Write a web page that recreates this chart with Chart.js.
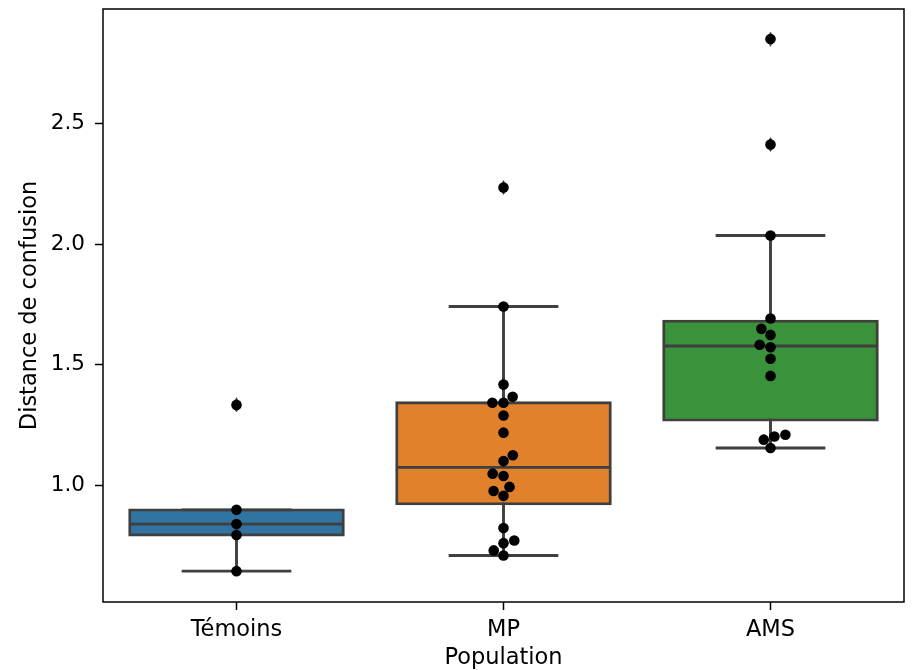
<!DOCTYPE html>
<html><head><meta charset="utf-8">
<script src="https://cdn.jsdelivr.net/npm/chart.js@4.4.1/dist/chart.umd.min.js"></script>
<style>html,body{margin:0;padding:0;background:#fff}#wrap{position:relative;width:913px;height:670px}</style>
</head><body><div id="wrap"><canvas id="c"></canvas></div>
<script>
// ---- data ----
const CATEGORIES = ['Témoins', 'MP', 'AMS'];
const TEMOINS = [1.334, 0.899, 0.840, 0.795, 0.645];
const MP = [2.235, 1.742, 1.418, 1.368, 1.343, 1.343, 1.290, 1.219, 1.125, 1.101, 1.049, 1.039, 0.994, 0.977, 0.957, 0.824, 0.772, 0.761, 0.731, 0.710];
const AMS = [2.850, 2.413, 2.036, 1.692, 1.649, 1.624, 1.583, 1.573, 1.525, 1.454, 1.210, 1.203, 1.190, 1.155];
const Y_TICKS = [1.0, 1.5, 2.0, 2.5];
const X_TITLE = 'Population';
const Y_TITLE = 'Distance de confusion';
const Y_MIN = 0.5171, Y_MAX = 2.9746;

const GROUPS = [TEMOINS, MP, AMS];

// ---- style ----
const LINE = '#3f3f3f';
const LW = 2.9;
const BOX_W = 0.8;
const PT_R = 5.3;

function quantile(s, q) { const p = (s.length - 1) * q, lo = Math.floor(p), hi = Math.ceil(p); return s[lo] + (s[hi] - s[lo]) * (p - lo); }
const STATS = GROUPS.map(vals => {
  const s = [...vals].sort((a, b) => a - b);
  const q1 = quantile(s, 0.25), med = quantile(s, 0.5), q3 = quantile(s, 0.75), iqr = q3 - q1;
  const inl = s.filter(v => v >= q1 - 1.5 * iqr && v <= q3 + 1.5 * iqr);
  return { q1, med, q3, lo: Math.min(...inl), hi: Math.max(...inl), fliers: s.filter(v => v < q1 - 1.5 * iqr || v > q3 + 1.5 * iqr) };
});

// thin diamond marker for fliers
const dia = document.createElement('canvas');
dia.width = 9; dia.height = 15;
{ const c = dia.getContext('2d'); c.fillStyle = LINE; c.beginPath(); c.moveTo(4.5, 0); c.lineTo(9, 7.5); c.lineTo(4.5, 15); c.lineTo(0, 7.5); c.closePath(); c.fill(); }

function seg(a, b, cap) {
  return { type: 'line', data: [a, b], borderColor: LINE, borderWidth: LW, pointRadius: 0, borderCapStyle: cap || 'square', showLine: true, fill: false, tension: 0 };
}

const datasets = [];
datasets.push({ type: 'scatter', label: 'swarm', data: GROUPS.flatMap((vals, gi) => vals.map(v => ({ x: gi, y: v }))),
  backgroundColor: '#000', borderWidth: 0, pointRadius: PT_R, pointHoverRadius: PT_R });
datasets.push({ type: 'scatter', label: 'fliers', data: STATS.flatMap((st, gi) => st.fliers.map(v => ({ x: gi, y: v }))),
  pointStyle: dia, pointRadius: 8 });
STATS.forEach((st, gi) => {
  const h = BOX_W / 2, c = BOX_W / 4;
  datasets.push(seg({ x: gi - h, y: st.med }, { x: gi + h, y: st.med }, 'butt'));
  datasets.push(seg({ x: gi, y: st.q1 }, { x: gi, y: st.lo }));
  datasets.push(seg({ x: gi, y: st.q3 }, { x: gi, y: st.hi }));
  datasets.push(seg({ x: gi - c, y: st.lo }, { x: gi + c, y: st.lo }));
  datasets.push(seg({ x: gi - c, y: st.hi }, { x: gi + c, y: st.hi }));
});
datasets.push({ type: 'bar', label: 'boxes', data: STATS.map((st, gi) => ({ x: gi, y: [st.q1, st.q3] })),
  backgroundColor: ['#3274a1', '#e1812c', '#3a923a'], borderColor: LINE, borderWidth: LW, borderSkipped: false,
  inflateAmount: LW / 2, categoryPercentage: BOX_W, barPercentage: 1, grouped: false });

Chart.defaults.font.family = "'DejaVu Sans', sans-serif";
Chart.defaults.font.size = 22;
Chart.defaults.color = '#000';

const frame = {
  id: 'frame',
  afterDraw(chart) {
    const { ctx, chartArea: a } = chart;
    ctx.save(); ctx.strokeStyle = '#000'; ctx.lineWidth = 1.5;
    ctx.strokeRect(a.left, a.top, a.right - a.left, a.bottom - a.top);
    ctx.restore();
  }
};

const chart = new Chart(document.getElementById('c'), {
  type: 'scatter',
  data: { datasets },
  plugins: [frame],
  options: {
    responsive: true, maintainAspectRatio: false, animation: false,
    layout: { padding: { top: 4, right: 7.5, bottom: 0, left: 0 } },
    plugins: { legend: { display: false }, tooltip: { enabled: false } },
    scales: {
      x: {
        type: 'linear', min: -0.5, max: 2.5, offset: false,
        afterBuildTicks: s => { s.ticks = CATEGORIES.map((_, i) => ({ value: i })); },
        afterFit: s => { s.height = 68; s.paddingLeft = 0; s.paddingRight = 0; },
        ticks: { callback: v => CATEGORIES[v] ?? '', autoSkip: false, maxRotation: 0, padding: 7, font: { size: 22.5 } },
        grid: { display: true, offset: false, drawOnChartArea: false, drawTicks: true, tickLength: 8, tickWidth: 1.5, tickColor: '#000' },
        border: { display: false },
        title: { display: true, text: X_TITLE, padding: { top: 0, bottom: 0 }, font: { size: 22.5, lineHeight: 1.05 } }
      },
      y: {
        type: 'linear', min: Y_MIN, max: Y_MAX,
        afterBuildTicks: s => { s.ticks = Y_TICKS.map(v => ({ value: v })); },
        afterFit: s => { s.width = 103; s.paddingTop = 0; s.paddingBottom = 0; },
        ticks: { callback: v => Number(v).toFixed(1), padding: 10, font: { size: 21.5 } },
        grid: { display: true, drawOnChartArea: false, drawTicks: true, tickLength: 8, tickWidth: 1.5, tickColor: '#000' },
        border: { display: false },
        title: { display: true, text: Y_TITLE, padding: { top: 17, bottom: 0 }, font: { size: 22.5 } }
      }
    }
  }
});

// seaborn-style beeswarm layout computed with the chart's own scales
function swarm(chart) {
  const xs = chart.scales.x, ys = chart.scales.y, r = PT_R;
  const out = [];
  GROUPS.forEach((vals, gi) => {
    const cx = xs.getPixelForValue(gi);
    const pts = vals.map(v => ({ v, y: -ys.getPixelForValue(v) })).sort((a, b) => a.y - b.y);
    const placed = [];
    pts.forEach(p => {
      const nb = [];
      for (let j = placed.length - 1; j >= 0; j--) { if (p.y - placed[j].y < 2 * r) nb.push(placed[j]); else break; }
      let cands = [{ x: cx }];
      let leftFirst = true;
      nb.forEach(n => {
        const dy = p.y - n.y, dx = Math.sqrt(Math.max(4 * r * r - dy * dy, 0)) * 1.05;
        const L = { x: n.x - dx }, R = { x: n.x + dx };
        if (leftFirst) cands.push(L, R); else cands.push(R, L);
        leftFirst = !leftFirst;
      });
      cands = cands.map((c, i) => ({ c, i })).sort((a, b) => (Math.abs(a.c.x - cx) - Math.abs(b.c.x - cx)) || (a.i - b.i)).map(o => o.c);
      let pick = cands[0];
      if (nb.length) pick = cands.find(c => nb.every(n => (n.x - c.x) ** 2 + (n.y - p.y) ** 2 >= 4 * r * r)) || cands[0];
      placed.push({ x: pick.x, y: p.y, v: p.v });
    });
    placed.forEach(s => out.push({ x: xs.getValueForPixel(s.x), y: s.v }));
  });
  return out;
}
chart.data.datasets[0].data = swarm(chart);
chart.update('none');
</script>
</body></html>
